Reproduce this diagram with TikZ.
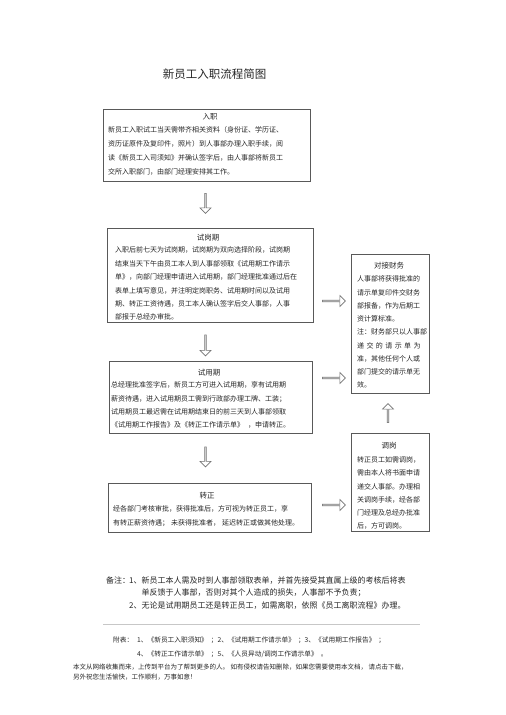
\documentclass[tikz,border=0pt]{standalone}
\usepackage{fontspec}
\setmainfont{Noto Sans CJK SC}
\usetikzlibrary{shapes.arrows}
\begin{document}
\begin{tikzpicture}[x=1pt,y=-1pt,
  box/.style={draw=black!65, line width=0.8pt, anchor=north west, inner sep=0pt},
  boxtitle/.style={font=\fontsize{7.5}{9}\selectfont, text=black!85, inner sep=0pt},
  boxbody/.style={font=\fontsize{7}{#1}\selectfont, text=black!85, align=left, inner sep=0pt, anchor=north west},
  plain/.style={text=black!85, inner sep=0pt},
  barrow/.style={single arrow, draw=black!55, fill=white, line width=0.6pt, minimum height=#1, minimum width=11pt, single arrow head extend=2pt, single arrow head indent=0pt, inner sep=0pt},
]
\useasboundingbox (0,0) rectangle (506,715);
\fill[white] (0,0) rectangle (506,715);

% title
\node[plain, font=\fontsize{11.5}{13}\selectfont] (title) at (214.5,74) {新员工入职流程简图};

% left column boxes
\node[box, minimum width=207pt, minimum height=72pt] (b1) at (103,109) {};
\node[box, minimum width=206pt, minimum height=94pt] (b2) at (107,228) {};
\node[box, minimum width=203pt, minimum height=72pt] (b3) at (109,361) {};
\node[box, minimum width=203pt, minimum height=49pt] (b4) at (108,483) {};
% right column boxes
\node[box, minimum width=78pt, minimum height=139pt] (bf) at (351,254) {};
\node[box, minimum width=78pt, minimum height=98pt] (bt) at (351,433) {};

% titles
\node[boxtitle] (t1) at (210,117) {入职};
\node[boxtitle] (t2) at (208,238) {试岗期};
\node[boxtitle] (t3) at (209,373) {试用期};
\node[boxtitle] (t4) at (207,496) {转正};
\node[boxtitle] (tf) at (389,266) {对接财务};
\node[boxtitle] (tt) at (389,446) {调岗};

% bodies
\node[boxbody=14] (d1) at (108,126.7) {新员工入职试工当天需带齐相关资料（身份证、学历证、\\资历证原件及复印件，照片）到人事部办理入职手续，阅\\读《新员工入司须知》并确认签字后，由人事部将新员工\\交所入职部门，由部门经理安排其工作。};
\node[boxbody=13.4] (d2) at (115,246.7) {入职后前七天为试岗期，试岗期为双向选择阶段，试岗期\\结束当天下午由员工本人到人事部领取《试用期工作请示\\单》，向部门经理申请进入试用期，部门经理批准通过后在\\表单上填写意见，并注明定岗职务、试用期时间以及试用\\期、转正工资待遇，员工本人确认签字后交人事部，人事\\部报于总经办审批。};
\node[boxbody=13.3] (d3) at (111,381.7) {总经理批准签字后，新员工方可进入试用期，享有试用期\\薪资待遇，进入试用期员工需到行政部办理工牌、工装；\\试用期员工最迟需在试用期结束日的前三天到人事部领取\\《试用期工作报告》及《转正工作请示单》\hspace{4pt}，申请转正。};
\node[boxbody=14] (d4) at (113,505.7) {经各部门考核审批，获得批准后，方可视为转正员工，享\\有转正薪资待遇；\hspace{2pt}未获得批准者，\hspace{2pt}延迟转正或做其他处理。};
\node[boxbody=13.25] (df) at (357,275.7) {人事部将获得批准的\\请示单复印件交财务\\部报备，作为后期工\\资计算标准。\\注：财务部只以人事部\\递\hspace{2.4pt}交\hspace{2.4pt}的\hspace{2.4pt}请\hspace{2.4pt}示\hspace{2.4pt}单\hspace{2.4pt}为\\准，其他任何个人或\\部门提交的请示单无\\效。};
\node[boxbody=13.2] (dt) at (357,456.7) {转正员工如需调岗，\\需由本人将书面申请\\递交人事部。办理相\\关调岗手续，经各部\\门经理及总经办批准\\后，方可调岗。};

% block arrows
\node[barrow=20pt, shape border rotate=270] (a1) at (205.5,203) {};
\node[barrow=21pt, shape border rotate=270] (a2) at (205.5,345) {};
\node[barrow=20pt, shape border rotate=270] (a3) at (205.5,456.5) {};
\node[barrow=23pt] (a4) at (333.5,301) {};
\node[barrow=23pt] (a5) at (333.5,378) {};
\node[barrow=23pt] (a6) at (333.5,505) {};
\node[barrow=19pt, shape border rotate=90] (a7) at (388,413.5) {};

% notes
\node[plain, anchor=west, font=\fontsize{8}{12.5}\selectfont] (nl) at (106,580) {备注：};
\node[plain, anchor=north west, align=left, font=\fontsize{8}{12.5}\selectfont] (nb) at (129,576.2) {1、新员工本人需及时到人事部领取表单，并首先接受其直属上级的考核后将表\\\hphantom{1、}单反馈于人事部，否则对其个人造成的损失，人事部不予负责；\\2、无论是试用期员工还是转正员工，如需离职，依照《员工离职流程》办理。};
\coordinate (sepL) at (103,624);
\coordinate (sepR) at (420,624);
\draw[black!22, line width=0.6pt] (sepL) -- (sepR);

% attachments
\node[plain, anchor=west, font=\fontsize{6.7}{14}\selectfont] (fl) at (113,640) {附表：};
\node[plain, anchor=north west, align=left, font=\fontsize{6.7}{14}\selectfont] (fb) at (137,636.8) {1、《新员工入职须知》\hspace{3pt}；2、《试用期工作请示单》\hspace{3pt}；3、《试用期工作报告》\hspace{3pt}；\\4、《转正工作请示单》\hspace{3pt}；5、《人员异动/调岗工作请示单》\hspace{3pt}。};

% footer
\node[plain, anchor=north west, align=left, font=\fontsize{6.5}{10}\selectfont] (ft) at (73,664) {本文从网络收集而来，上传到平台为了帮到更多的人。 如有侵权请告知删除，如果您需要使用本文档， 请点击下载，\\另外祝您生活愉快，工作顺利，万事如意！};
\end{tikzpicture}
\end{document}
